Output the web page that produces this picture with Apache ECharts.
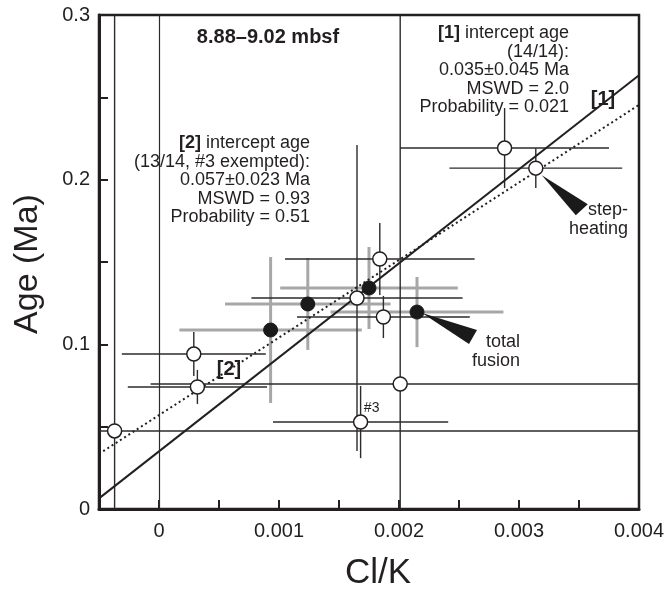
<!DOCTYPE html>
<html>
<head>
<meta charset="utf-8">
<script src="https://cdn.jsdelivr.net/npm/echarts@6/dist/echarts.min.js"></script>
<style>
html, body { margin: 0; padding: 0; background: #fff; }
#chart { width: 670px; height: 594px; }
</style>
</head>
<body>
<div id="chart"></div>
<script>
'use strict';

// open circles: Cl/K, age (Ma) and 1-sigma errors
var stepX = [-0.00037, 0.00029, 0.00032, 0.00184, 0.00165, 0.00187, 0.00201, 0.00168, 0.00288, 0.00314];
var stepAge = [0.0474, 0.0941, 0.0741, 0.1518, 0.1281, 0.1166, 0.0759, 0.0528, 0.2192, 0.2070];
var stepErrX = [0.006, 0.0006, 0.00058, 0.00079, 0.00088, 0.00072, 0.00208, 0.00073, 0.00087, 0.00072];
var stepErrAge = [0.5, 0.0134, 0.0103, 0.0219, 0.0929, 0.0128, 0.5, 0.0219, 0.0243, 0.0121];
var stepLabels = ['', '', '', '', '', '', '', '#3', '', ''];

// filled circles (total fusion)
var fusionX = [0.00093, 0.00124, 0.00175, 0.00215];
var fusionAge = [0.1087, 0.1245, 0.1342, 0.1196];
var fusionErrX = [0.00076, 0.00069, 0.00074, 0.00072];
var fusionErrAge = [0.0443, 0.0279, 0.0249, 0.0213];

// isochron fits [1] and [2]
var fitNames = ['[1]', '[2]'];
var fitIntercepts = [0.035, 0.057];
var fitSlopes = [57.1, 47.1];

var xLabels = ['0', '0.001', '0.002', '0.003', '0.004'];
var yLabels = ['0', '0.1', '0.2', '0.3'];

var X_MIN = -0.0005, X_MAX = 0.004, Y_MIN = 0, Y_MAX = 0.3;
var FONT = '"Liberation Sans", Arial, Helvetica, sans-serif';
var INK = '#231f20';

function clamp(v, lo, hi) {
  return Math.max(lo, Math.min(hi, v));
}

function zip(xs, ys, exs, eys) {
  var out = [];
  for (var i = 0; i < xs.length; i++) {
    out.push([xs[i], ys[i], exs[i], eys[i]]);
  }
  return out;
}

function renderBars(color, width) {
  return function (params, api) {
    var x = api.value(0), y = api.value(1), ex = api.value(2), ey = api.value(3);
    var h0 = api.coord([clamp(x - ex, X_MIN, X_MAX), y]);
    var h1 = api.coord([clamp(x + ex, X_MIN, X_MAX), y]);
    var v0 = api.coord([x, clamp(y - ey, Y_MIN, Y_MAX)]);
    var v1 = api.coord([x, clamp(y + ey, Y_MIN, Y_MAX)]);
    var st = { stroke: color, lineWidth: width };
    return {
      type: 'group',
      children: [
        { type: 'line', shape: { x1: h0[0], y1: h0[1], x2: h1[0], y2: h1[1] }, style: st },
        { type: 'line', shape: { x1: v0[0], y1: v0[1], x2: v1[0], y2: v1[1] }, style: st }
      ]
    };
  };
}

function fitLine(i) {
  return [
    [X_MIN, fitIntercepts[i] + fitSlopes[i] * X_MIN],
    [X_MAX, fitIntercepts[i] + fitSlopes[i] * X_MAX]
  ];
}

var stepData = zip(stepX, stepAge, stepErrX, stepErrAge);
var fusionData = zip(fusionX, fusionAge, fusionErrX, fusionErrAge);

var option = {
  animation: false,
  backgroundColor: '#fff',
  grid: {
    left: 99, right: 31, top: 15, bottom: 85,
    show: true, borderColor: INK, borderWidth: 2.5
  },
  xAxis: {
    type: 'value',
    min: X_MIN, max: X_MAX, interval: 0.0005,
    splitLine: { show: false },
    axisLine: { onZero: false, lineStyle: { color: INK, width: 3 } },
    axisTick: { inside: true, length: 9, lineStyle: { color: INK, width: 2 } },
    axisLabel: {
      margin: 12, color: INK, fontSize: 20, fontFamily: FONT,
      formatter: function (v) {
        var k = Math.round(v * 1000 * 2);
        if (k < 0 || k % 2 !== 0) return '';
        return xLabels[k / 2] || '';
      }
    }
  },
  yAxis: {
    type: 'value',
    min: Y_MIN, max: Y_MAX, interval: 0.05,
    splitLine: { show: false },
    axisLine: { onZero: false, lineStyle: { color: INK, width: 3 } },
    axisTick: { inside: true, length: 9, lineStyle: { color: INK, width: 2 } },
    axisLabel: {
      margin: 9, color: INK, fontSize: 20, fontFamily: FONT,
      formatter: function (v) {
        var k = Math.round(v * 10 * 2);
        if (k % 2 !== 0) return '';
        return yLabels[k / 2] || '';
      }
    }
  },
  series: [{
    name: 'fusion bars',
    type: 'custom',
    renderItem: renderBars('#a7a7a7', 3),
    data: fusionData,
    z: 1,
    silent: true
  }, {
    name: 'step bars',
    type: 'custom',
    renderItem: renderBars('#2b2b2b', 1.4),
    data: stepData,
    z: 2,
    silent: true
  }, {
    name: fitNames[0],
    type: 'line',
    data: fitLine(0),
    symbol: 'none',
    lineStyle: { color: INK, width: 2 },
    z: 3,
    markLine: {
      silent: true,
      symbol: 'none',
      label: { show: false },
      lineStyle: { color: '#2b2b2b', width: 1.2, type: 'solid' },
      data: [{ xAxis: 0 }]
    }
  }, {
    name: fitNames[1],
    type: 'line',
    data: fitLine(1),
    symbol: 'none',
    lineStyle: { color: INK, width: 2, type: [2, 3] },
    z: 3
  }, {
    name: 'total fusion',
    type: 'scatter',
    data: fusionData,
    symbolSize: 14,
    itemStyle: { color: '#1a1a1a', borderColor: '#1a1a1a', borderWidth: 1, opacity: 1 },
    z: 4
  }, {
    name: 'step-heating',
    type: 'scatter',
    data: stepData.map(function (d, i) {
      return {
        value: d,
        label: {
          show: stepLabels[i] !== '',
          formatter: stepLabels[i],
          position: [11, -13],
          color: INK, fontSize: 14, fontFamily: FONT
        }
      };
    }),
    symbolSize: 14,
    itemStyle: { color: '#fff', borderColor: INK, borderWidth: 1.5, opacity: 1 },
    z: 5
  }]
};

var myChart = echarts.init(document.getElementById('chart'));
myChart.setOption(option);

// pointer wedges hang off the step-heating and total fusion points
var pI = myChart.convertToPixel({ gridIndex: 0 }, [stepX[9], stepAge[9]]);
var pG = myChart.convertToPixel({ gridIndex: 0 }, [fusionX[3], fusionAge[3]]);

var txt = { fill: INK, fontSize: 18, fontFamily: FONT, lineHeight: 18.5 };
var bold = { fontWeight: 'bold', fontSize: 18, fontFamily: FONT, fill: INK, lineHeight: 18.5 };

function textEl(x, y, text, align, extra) {
  var style = { x: x, y: y, text: text, align: align, verticalAlign: 'top', rich: { b: bold } };
  for (var k in txt) style[k] = txt[k];
  for (var j in (extra || {})) style[j] = extra[j];
  return { type: 'text', z: 100, style: style };
}

myChart.setOption({
  graphic: [
    textEl(268, 28, '8.88\u20139.02 mbsf', 'center', { fontWeight: 'bold', fontSize: 20 }),
    textEl(569, 24, '{b|[1]} intercept age\n(14/14):\n0.035\u00b10.045 Ma\nMSWD = 2.0\nProbability = 0.021', 'right'),
    textEl(310, 134, '{b|[2]} intercept age\n(13/14, #3 exempted):\n0.057\u00b10.023 Ma\nMSWD = 0.93\nProbability = 0.51', 'right'),
    textEl(603, 88, '[1]', 'center', { fontWeight: 'bold', fontSize: 20, lineHeight: 22 }),
    textEl(229, 358, '[2]', 'center', { fontWeight: 'bold', fontSize: 20, lineHeight: 22 }),
    textEl(628, 201, 'step-\nheating', 'right'),
    textEl(520, 333, 'total\nfusion', 'right'),
    textEl(378, 553, 'Cl/K', 'center', { fontSize: 35, lineHeight: 40 }),
    {
      type: 'text', z: 100, x: 28, y: 264, rotation: Math.PI / 2,
      style: { text: 'Age (Ma)', fill: INK, fontSize: 34, fontFamily: FONT, align: 'center', verticalAlign: 'middle' }
    },
    {
      type: 'polygon', z: 90,
      shape: { points: [[pI[0] + 6, pI[1] + 7], [pI[0] + 52, pI[1] + 36], [pI[0] + 40, pI[1] + 47]] },
      style: { fill: '#1a1a1a' }
    },
    {
      type: 'polygon', z: 90,
      shape: { points: [[pG[0] + 5, pG[1] + 1], [pG[0] + 60, pG[1] + 18], [pG[0] + 52, pG[1] + 32]] },
      style: { fill: '#1a1a1a' }
    }
  ]
});
</script>
</body>
</html>
